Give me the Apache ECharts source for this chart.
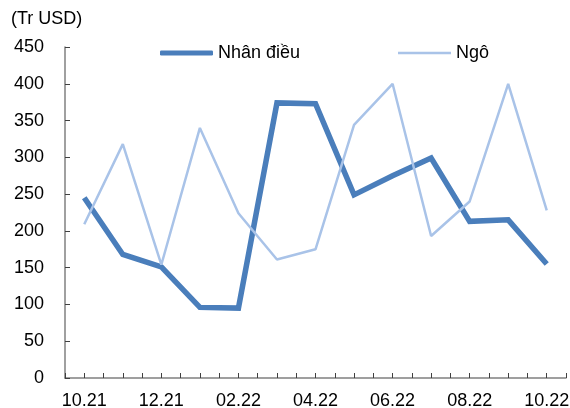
<!DOCTYPE html>
<html>
<head>
<meta charset="utf-8">
<script src="https://cdn.jsdelivr.net/npm/echarts@6/dist/echarts.min.js"></script>
<style>html,body{margin:0;padding:0;background:#fff;}#c{width:570px;height:408px;}</style>
</head>
<body>
<div id="c"></div>
<script>
const categories = ['10.21','11.21','12.21','01.22','02.22','03.22','04.22','05.22','06.22','07.22','08.22','09.22','10.22'];
const nhanDieu = [245, 168, 151, 96, 95, 374, 373, 249, 275, 299, 213, 215, 155];
const ngo = [209, 318, 154, 340, 224, 161, 175, 344, 400, 193, 240, 400, 228];
const yTicks = [0, 50, 100, 150, 200, 250, 300, 350, 400, 450];

const font = 'Liberation Sans, Arial, sans-serif';
const fs = 18;
const chart = echarts.init(document.getElementById('c'), null, {renderer: 'canvas'});
chart.setOption({
  animation: false,
  backgroundColor: '#ffffff',
  textStyle: {fontFamily: font},
  graphic: [{type: 'text', left: 11, top: 10, style: {text: '(Tr USD)', font: fs + 'px ' + font, fill: '#000'}}],
  legend: [
    {data: ['Nhân điều'], left: 160, top: 44, padding: 0, itemWidth: 53, itemHeight: 5, itemGap: 6, icon: 'roundRect',
     textStyle: {fontSize: fs, color: '#000', fontFamily: font}},
    {data: ['Ngô'], left: 398, top: 44, padding: 0, itemWidth: 53, itemHeight: 2.5, itemGap: 5, icon: 'rect',
     textStyle: {fontSize: fs, color: '#000', fontFamily: font}}
  ],
  grid: {left: 65, right: 4, top: 47, bottom: 30, containLabel: false, outerBoundsMode: 'none'},
  xAxis: [
    {type: 'category', data: categories, boundaryGap: true,
     axisLine: {lineStyle: {color: '#808080', width: 1.5}},
     axisTick: {show: true, inside: true, length: 5, interval: 0, lineStyle: {color: '#404040'}},
     axisLabel: {interval: 1, fontSize: fs, color: '#000', margin: 14, fontFamily: font}},
    {type: 'category', data: categories, boundaryGap: true, position: 'bottom',
     axisLine: {show: false},
     axisTick: {show: true, inside: true, length: 5, interval: 0, alignWithLabel: true, lineStyle: {color: '#404040'}},
     axisLabel: {show: false}}
  ],
  yAxis: {type: 'value', min: yTicks[0], max: yTicks[yTicks.length - 1], interval: 50,
    axisLine: {show: true, lineStyle: {color: '#808080', width: 1.5}},
    axisTick: {show: true, inside: true, length: 5, lineStyle: {color: '#404040'}},
    splitLine: {show: false},
    axisLabel: {fontSize: fs, color: '#000', margin: 21, fontFamily: font}},
  series: [
    {name: 'Nhân điều', type: 'line', data: nhanDieu, symbol: 'none', xAxisIndex: 0,
     lineStyle: {color: '#4a7ebb', width: 5.5, join: 'miter'}, itemStyle: {color: '#4a7ebb'}},
    {name: 'Ngô', type: 'line', data: ngo, symbol: 'none', xAxisIndex: 0,
     lineStyle: {color: '#a9c3e8', width: 2.5}, itemStyle: {color: '#a9c3e8'}}
  ]
});
</script>
</body>
</html>
